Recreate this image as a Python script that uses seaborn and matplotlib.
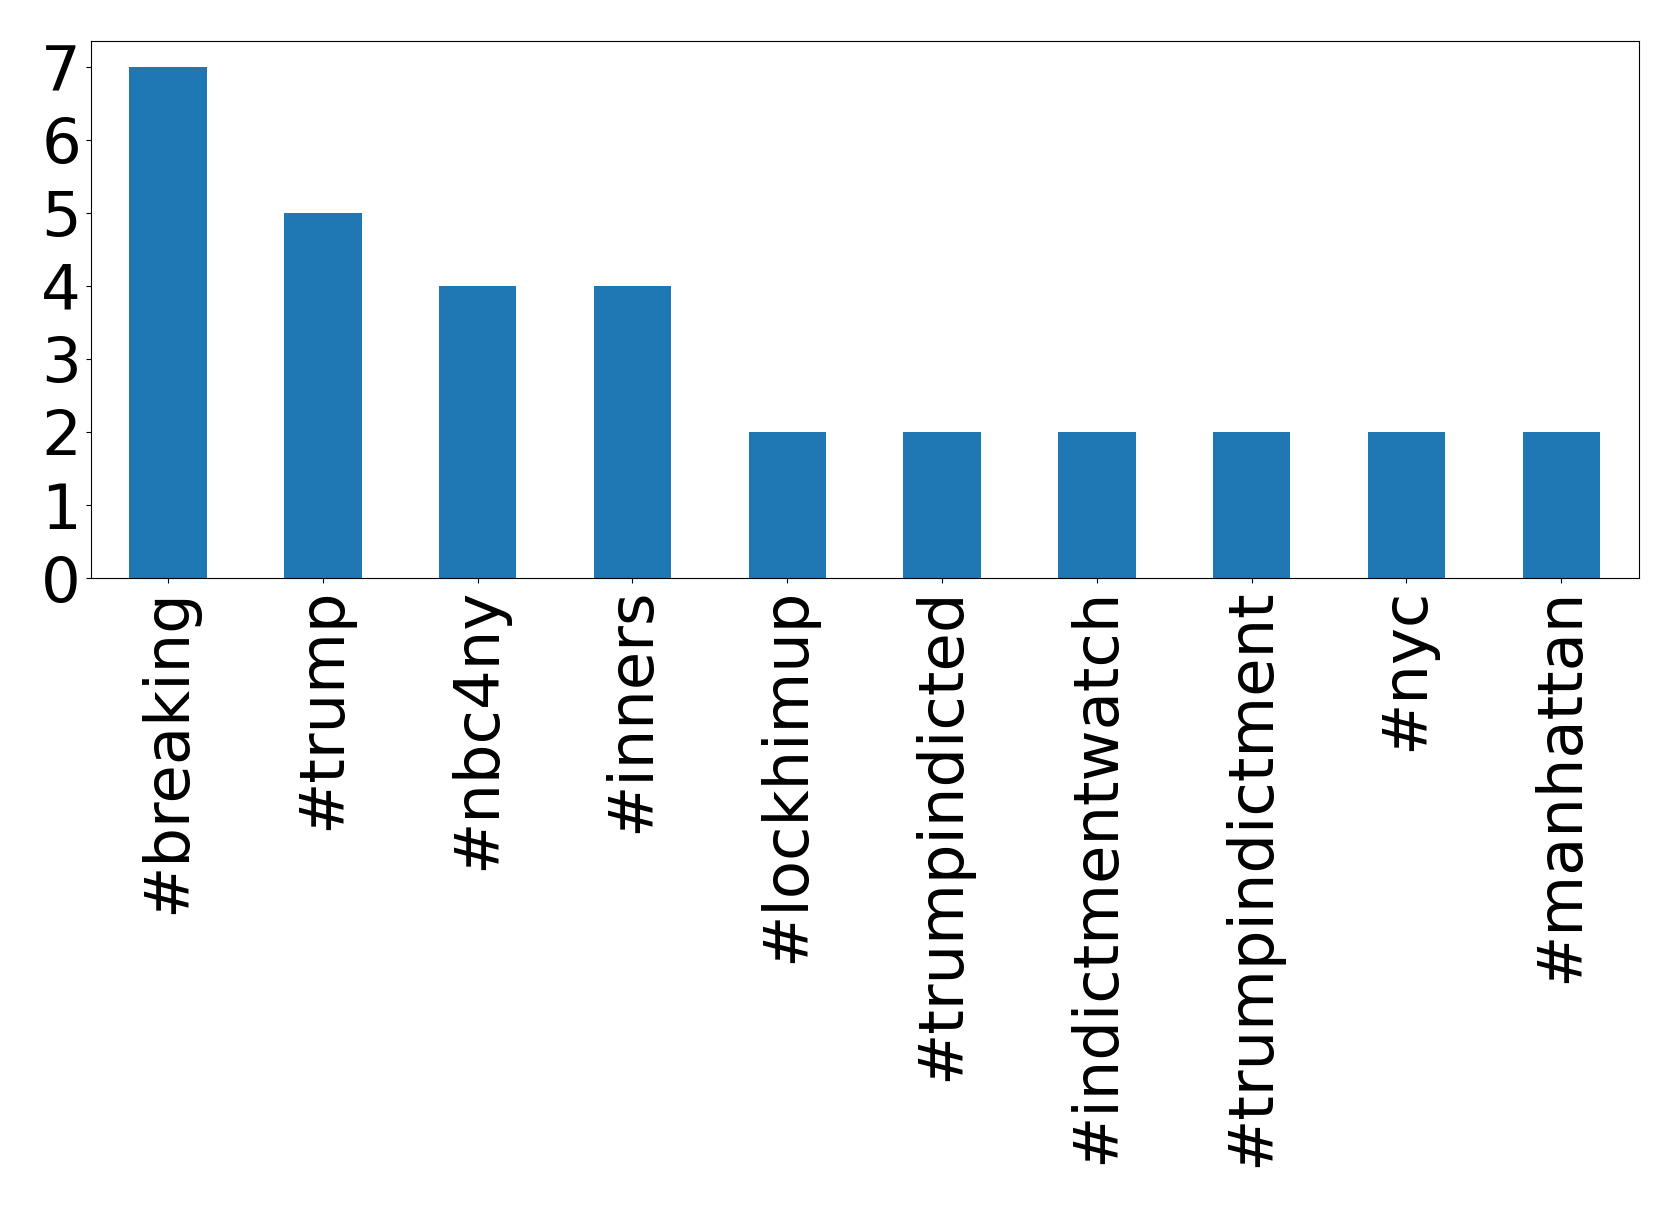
import matplotlib
matplotlib.use("Agg")
import matplotlib.pyplot as plt
import seaborn as sns
import pandas as pd

hashtags = ["#breaking", "#trump", "#nbc4ny", "#inners", "#lockhimup",
            "#trumpindicted", "#indictmentwatch", "#trumpindictment", "#nyc", "#manhattan"]
counts = [7, 5, 4, 4, 2, 2, 2, 2, 2, 2]
yticks = [0, 1, 2, 3, 4, 5, 6, 7]

df = pd.DataFrame({"hashtag": hashtags, "count": counts})

fig, ax = plt.subplots(figsize=(16.79, 12.07), dpi=100)
sns.barplot(data=df, x="hashtag", y="count", color="#1f77b4", saturation=1, width=0.5, ax=ax)
ax.set_xlabel("")
ax.set_ylabel("")
ax.set_xlim(-0.5, len(hashtags) - 0.5)
ax.set_ylim(0, 7.35)
ax.set_yticks(yticks)
ax.tick_params(axis="x", labelrotation=90, labelsize=45)
ax.tick_params(axis="y", labelsize=45)
plt.subplots_adjust(left=0.054, right=0.976, top=0.966, bottom=0.521)
plt.savefig("out.png")
